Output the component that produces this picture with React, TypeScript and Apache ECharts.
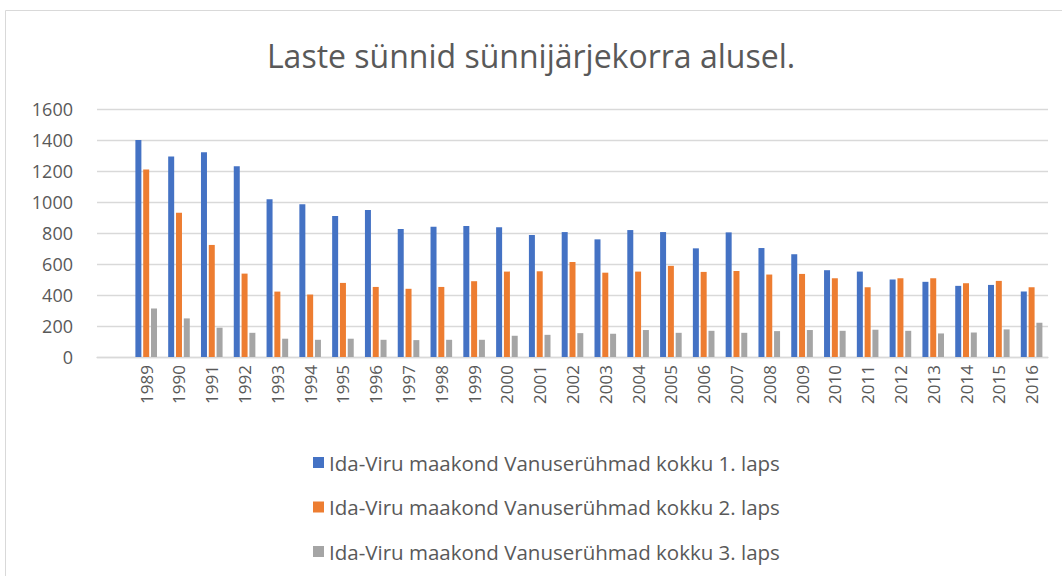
import React, { useEffect, useRef } from "react";
import * as echarts from "echarts";

const years = [
  "1989","1990","1991","1992","1993","1994","1995","1996","1997","1998",
  "1999","2000","2001","2002","2003","2004","2005","2006","2007","2008",
  "2009","2010","2011","2012","2013","2014","2015","2016",
];
const first = [
  1400, 1294, 1321, 1231, 1017, 985, 909, 948, 826, 841,
  845, 837, 787, 806, 759, 819, 806, 701, 804, 703,
  663, 560, 551, 500, 485, 459, 465, 422,
];
const second = [
  1210, 931, 723, 538, 422, 403, 478, 452, 440, 452,
  489, 551, 553, 613, 544, 551, 588, 549, 555, 532,
  536, 508, 450, 508, 508, 476, 491, 450,
];
const third = [
  313, 249, 189, 156, 118, 111, 118, 111, 109, 111,
  111, 137, 143, 154, 150, 174, 156, 169, 156, 167,
  174, 169, 176, 169, 152, 158, 178, 221,
];
const seriesNames = [
  "Ida-Viru maakond Vanuserühmad kokku 1. laps",
  "Ida-Viru maakond Vanuserühmad kokku 2. laps",
  "Ida-Viru maakond Vanuserühmad kokku 3. laps",
];
const colors = ["#4472C4", "#ED7D31", "#A5A5A5"];
const titleText = "Laste sünnid sünnijärjekorra alusel.";

export default function App() {
  const ref = useRef<HTMLDivElement>(null);
  useEffect(() => {
    if (!ref.current) return;
    const chart = echarts.init(ref.current, null, { renderer: "svg" });
    const font = "Open Sans";
    // the source chart has one empty leading category slot
    const cats = ["", ...years];
    const mk = (name: string, data: number[], color: string) => ({
      name,
      type: "bar",
      data: [null, ...data],
      barWidth: 6,
      barGap: "30%",
      itemStyle: { color },
    });
    chart.setOption({
      animation: false,
      backgroundColor: "#ffffff",
      textStyle: { fontFamily: font },
      title: {
        text: titleText,
        left: "center",
        top: 34,
        textStyle: {
          fontFamily: font,
          fontSize: 32,
          fontWeight: "normal",
          color: "#595959",
        },
      },
      graphic: [
        {
          type: "rect",
          shape: { x: 5.5, y: 10.5, width: 1070, height: 600 },
          style: { fill: "none", stroke: "#d9d9d9", lineWidth: 1 },
          silent: true,
        },
      ],
      grid: { left: 97, right: 14, top: 109, bottom: 219, containLabel: false },
      legend: {
        orient: "vertical",
        left: 308,
        top: 447,
        itemWidth: 11,
        itemHeight: 11,
        itemGap: 23.5,
        icon: "rect",
        textStyle: { fontFamily: font, fontSize: 20.5, color: "#595959" },
        data: seriesNames,
      },
      xAxis: {
        type: "category",
        data: cats,
        axisLine: { lineStyle: { color: "#d9d9d9", width: 1.3 } },
        axisTick: { show: false },
        axisLabel: {
          rotate: 90,
          margin: 8,
          fontFamily: font,
          fontSize: 17,
          color: "#595959",
          interval: 0,
        },
      },
      yAxis: {
        type: "value",
        min: 0,
        max: 1600,
        interval: 200,
        axisLine: { show: false },
        axisTick: { show: false },
        axisLabel: {
          margin: 24,
          fontFamily: font,
          fontSize: 18,
          color: "#595959",
          formatter: (v: number) => String(v),
        },
        splitLine: { lineStyle: { color: "#d9d9d9", width: 1.3 } },
      },
      series: [
        mk(seriesNames[0], first, colors[0]),
        mk(seriesNames[1], second, colors[1]),
        mk(seriesNames[2], third, colors[2]),
      ],
    });
    return () => chart.dispose();
  }, []);
  return (
    <div
      ref={ref}
      style={{ position: "fixed", left: 0, top: 0, width: 1062, height: 576 }}
    />
  );
}
